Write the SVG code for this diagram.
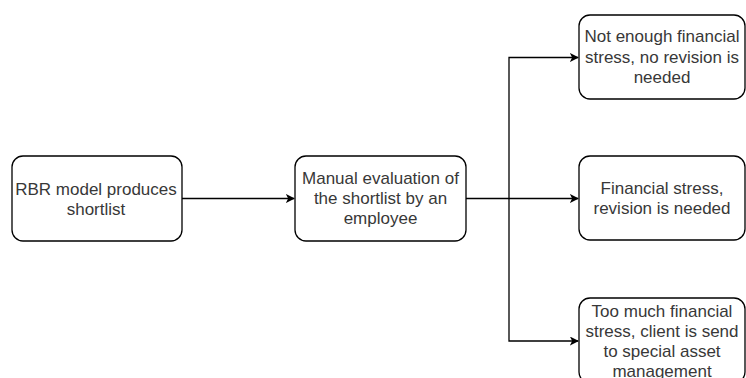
<svg xmlns="http://www.w3.org/2000/svg" width="746" height="378" viewBox="0 0 746 378">
  <style>
    .box { fill: #ffffff; stroke: #000000; stroke-width: 1.3; }
    .lbl { font-family: "Liberation Sans", Arial, sans-serif; font-size: 17px; fill: #383838; text-anchor: middle; }
    .edge { fill: none; stroke: #000000; stroke-width: 1.3; }
  </style>
  <defs>
    <marker id="arrow" viewBox="0 0 10 10" refX="9" refY="5" markerWidth="9" markerHeight="9" markerUnits="userSpaceOnUse" orient="auto">
      <path d="M0,0 L10,5 L0,10 L2.5,5 Z" fill="#000000"/>
    </marker>
  </defs>
  <rect width="746" height="378" fill="#ffffff"/>

  <g id="connectors">
    <path class="edge" d="M182,198.5 H294" marker-end="url(#arrow)"/>
    <path class="edge" d="M466,198.5 H578" marker-end="url(#arrow)"/>
    <path class="edge" d="M509,198.5 V57.5 H578" marker-end="url(#arrow)"/>
    <path class="edge" d="M509,198.5 V341 H578" marker-end="url(#arrow)"/>
  </g>

  <g id="rbr-model">
    <rect class="box" x="12" y="156" width="170" height="85" rx="11"/>
    <text class="lbl" x="96" y="194.5">RBR model produces</text>
    <text class="lbl" x="96" y="214.5">shortlist</text>
  </g>

  <g id="manual-evaluation">
    <rect class="box" x="295" y="156" width="171" height="85" rx="11"/>
    <text class="lbl" x="380.5" y="184">Manual evaluation of</text>
    <text class="lbl" x="380.5" y="204">the shortlist by an</text>
    <text class="lbl" x="380.5" y="224">employee</text>
  </g>

  <g id="no-revision">
    <rect class="box" x="579" y="15" width="166" height="84" rx="11"/>
    <text class="lbl" x="662" y="42">Not enough financial</text>
    <text class="lbl" x="662" y="62.5">stress, no revision is</text>
    <text class="lbl" x="662" y="83">needed</text>
  </g>

  <g id="revision-needed">
    <rect class="box" x="579" y="156" width="166" height="84" rx="11"/>
    <text class="lbl" x="662" y="194">Financial stress,</text>
    <text class="lbl" x="662" y="214">revision is needed</text>
  </g>

  <g id="special-asset">
    <rect class="box" x="579" y="298" width="166" height="85" rx="11"/>
    <text class="lbl" x="662" y="316.5">Too much financial</text>
    <text class="lbl" x="662" y="336.5">stress, client is send</text>
    <text class="lbl" x="662" y="356.5">to special asset</text>
    <text class="lbl" x="662" y="376.5">management</text>
  </g>
</svg>
